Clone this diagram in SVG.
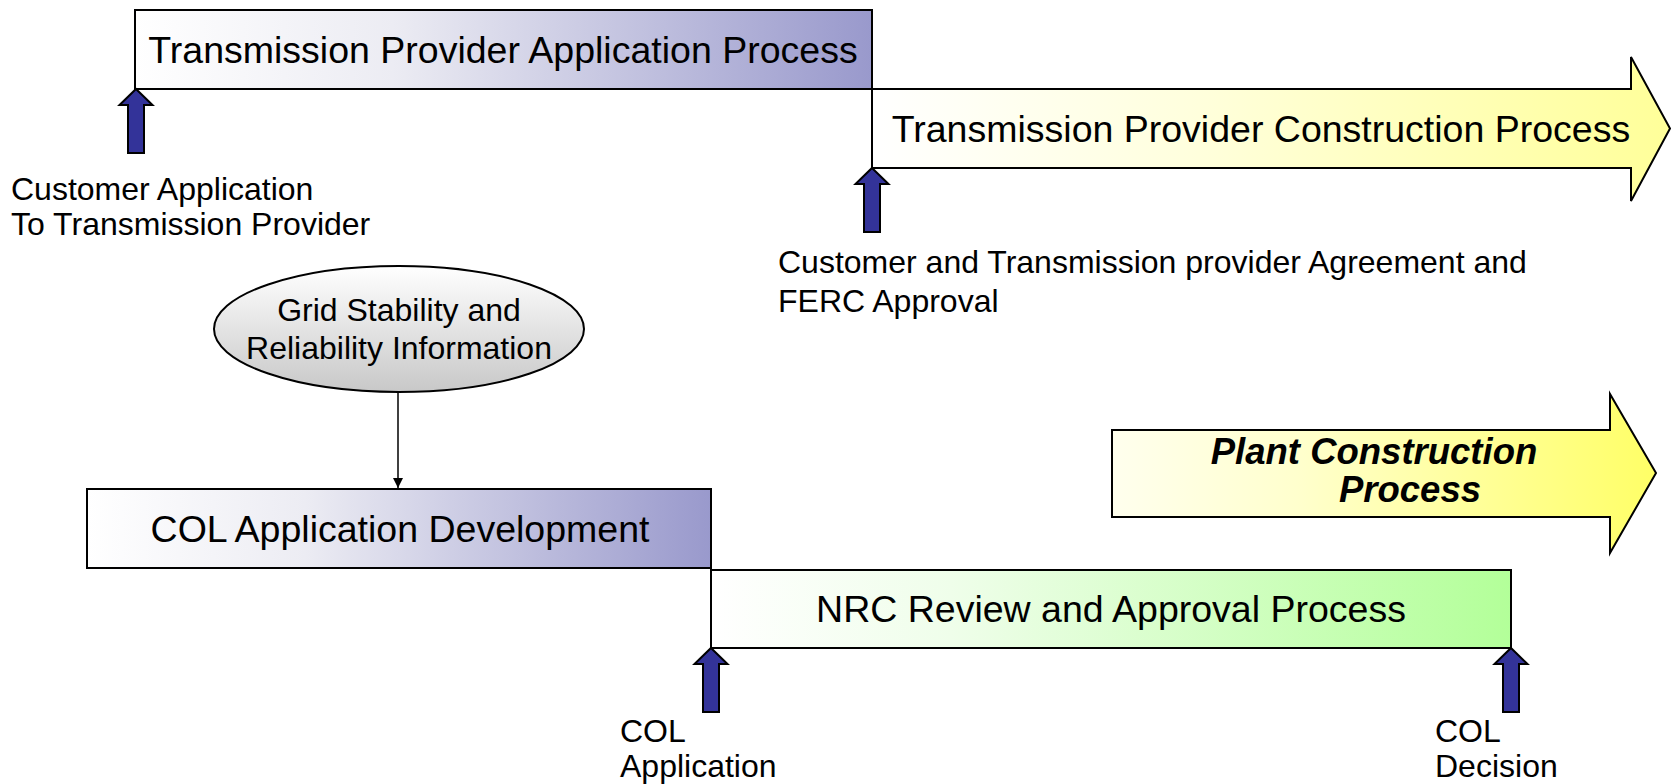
<svg xmlns="http://www.w3.org/2000/svg" width="1677" height="784" viewBox="0 0 1677 784">
<defs>
  <linearGradient id="gBlue" x1="0" y1="0" x2="1" y2="0">
    <stop offset="0" stop-color="#ffffff"/>
    <stop offset="0.35" stop-color="#ececf3"/>
    <stop offset="1" stop-color="#9999cc"/>
  </linearGradient>
  <linearGradient id="gYellow" x1="0" y1="0" x2="1" y2="0">
    <stop offset="0" stop-color="#ffffff"/>
    <stop offset="0.4" stop-color="#ffffdd"/>
    <stop offset="1" stop-color="#ffff99"/>
  </linearGradient>
  <linearGradient id="gYellow2" x1="0" y1="0" x2="1" y2="0">
    <stop offset="0" stop-color="#ffffee"/>
    <stop offset="0.35" stop-color="#ffffcc"/>
    <stop offset="1" stop-color="#ffff66"/>
  </linearGradient>
  <linearGradient id="gGreen" x1="0" y1="0" x2="1" y2="0">
    <stop offset="0" stop-color="#ffffff"/>
    <stop offset="0.3" stop-color="#effeea"/>
    <stop offset="1" stop-color="#b3ff99"/>
  </linearGradient>
  <linearGradient id="gGray" x1="0" y1="0" x2="0" y2="1">
    <stop offset="0" stop-color="#ffffff"/>
    <stop offset="1" stop-color="#c8c8c8"/>
  </linearGradient>
  <marker id="arr" markerWidth="12" markerHeight="12" refX="10" refY="5" orient="auto" markerUnits="userSpaceOnUse">
    <path d="M0,0 L10,5 L0,10 Z" fill="#000"/>
  </marker>
  <path id="blueArrow" d="M0,0 L16.5,16 L8,16 L8,64 L-8,64 L-8,16 L-16.5,16 Z"/>
</defs>
<style>
  .box { stroke:#000; stroke-width:2; }
  .big { font-family:"Liberation Sans", Arial, sans-serif; font-size:37.5px; fill:#000; text-anchor:middle; }
  .lbl { font-family:"Liberation Sans", Arial, sans-serif; font-size:32px; fill:#000; }
  .bi { font-family:"Liberation Sans", Arial, sans-serif; font-size:36.5px; font-weight:bold; font-style:italic; fill:#000; text-anchor:middle; }
  .ba { fill:#333399; stroke:#000; stroke-width:2; stroke-linejoin:miter; }
</style>
<rect width="1677" height="784" fill="#ffffff"/>

<g id="tp-application">
  <rect class="box" x="135" y="10" width="737" height="79" fill="url(#gBlue)"/>
  <text class="big" x="503" y="63">Transmission Provider Application Process</text>
</g>

<g id="tp-construction">
  <path class="box" d="M872,89 L1631,89 L1631,57 L1670,128.5 L1631,201 L1631,168 L872,168 Z" fill="url(#gYellow)"/>
  <text class="big" x="1261" y="142">Transmission Provider Construction Process</text>
</g>

<g id="grid-info">
  <ellipse class="box" cx="399" cy="329" rx="185" ry="63" fill="url(#gGray)"/>
  <text class="lbl" x="399" y="321" text-anchor="middle">Grid Stability and</text>
  <text class="lbl" x="399" y="359" text-anchor="middle">Reliability Information</text>
</g>

<g id="col-development">
  <rect class="box" x="87" y="489" width="624" height="79" fill="url(#gBlue)"/>
  <text class="big" x="400" y="542">COL Application Development</text>
</g>

<g id="nrc-review">
  <rect class="box" x="711" y="570" width="800" height="78" fill="url(#gGreen)"/>
  <text class="big" x="1111" y="622">NRC Review and Approval Process</text>
</g>

<g id="plant-construction">
  <path class="box" d="M1112,430 L1610,430 L1610,394 L1656,473 L1610,553 L1610,517 L1112,517 Z" fill="url(#gYellow2)"/>
  <text class="bi" x="1374" y="464">Plant Construction</text>
  <text class="bi" x="1410" y="502">Process</text>
</g>

<g id="milestone-customer-application">
  <use href="#blueArrow" class="ba" x="136" y="89"/>
  <text class="lbl" x="11" y="200">Customer Application</text>
  <text class="lbl" x="11" y="235">To Transmission Provider</text>
</g>

<g id="milestone-agreement">
  <use href="#blueArrow" class="ba" x="872" y="168"/>
  <text class="lbl" x="778" y="273">Customer and Transmission provider Agreement and</text>
  <text class="lbl" x="778" y="312">FERC Approval</text>
</g>

<g id="milestone-col-application">
  <use href="#blueArrow" class="ba" x="711" y="648"/>
  <text class="lbl" x="620" y="742">COL</text>
  <text class="lbl" x="620" y="777">Application</text>
</g>

<g id="milestone-col-decision">
  <use href="#blueArrow" class="ba" x="1511" y="648"/>
  <text class="lbl" x="1435" y="742">COL</text>
  <text class="lbl" x="1435" y="777">Decision</text>
</g>

<g id="connectors">
  <line x1="398" y1="392" x2="398" y2="488" stroke="#000" stroke-width="1.5" marker-end="url(#arr)"/>
</g>
</svg>
